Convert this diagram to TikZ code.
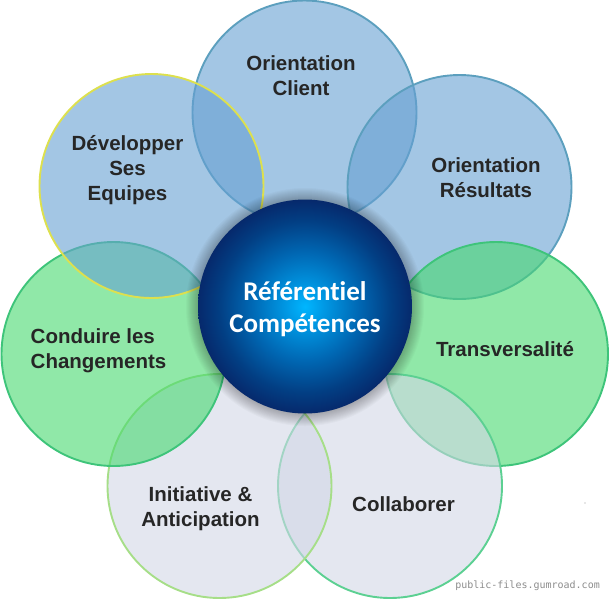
\documentclass[tikz,border=0pt]{standalone}
\usepackage{fontspec}
\setmainfont{Liberation Sans}
\newfontfamily\hubfont[Ligatures=NoCommon]{Carlito}
\newfontfamily\markfont{DejaVu Sans Mono}
\definecolor{bluefill}{HTML}{66A0D2}
\definecolor{greenfill}{HTML}{46D96E}
\definecolor{greyfill}{HTML}{D2D7E6}
\definecolor{labelink}{HTML}{262626}
\definecolor{edgeblue}{HTML}{5C9FBE}
\definecolor{edgeyellow}{HTML}{DDE04E}
\definecolor{edgegreen}{HTML}{3EC47A}
\definecolor{edgelime}{HTML}{A6DE88}
\definecolor{edgemint}{HTML}{5CD092}
\definecolor{hubA}{HTML}{00B6FF}
\definecolor{hubB}{HTML}{0098E4}
\definecolor{hubC}{HTML}{0068B4}
\definecolor{hubD}{HTML}{023F84}
\definecolor{hubE}{HTML}{06296C}
\pgfdeclareradialshading{hubshade}{\pgfpoint{0bp}{0bp}}{%
 color(0bp)=(hubA);
 color(4.5bp)=(hubB);
 color(12.5bp)=(hubC);
 color(20bp)=(hubD);
 color(25bp)=(hubE);
 color(50bp)=(hubE)}
\tikzset{
 petal/.style={circle,minimum size=224pt,inner sep=0pt,line width=1.9pt,fill opacity=0.6},
 bluepetal/.style={petal,fill=bluefill},
 greenpetal/.style={petal,fill=greenfill},
 greypetal/.style={petal,fill=greyfill},
 petallabel/.style={font=\bfseries\fontsize{20.5}{25}\selectfont,text=labelink,align=center,inner sep=0pt},
}
\begin{document}
\begin{tikzpicture}[x=1pt,y=-1pt]
\useasboundingbox (0,0) rectangle (609,600);
\node[bluepetal,draw=edgeblue] (client) at (304.5,112.5) {};
\node[bluepetal,draw=edgeblue] (resultats) at (459.5,187) {};
\node[greenpetal,draw=edgegreen] (transv) at (496,354) {};
\node[greypetal,draw=edgemint] (collaborer) at (390,486) {};
\node[greypetal,draw=edgelime] (initiative) at (219.5,486) {};
\node[greenpetal,draw=edgegreen] (conduire) at (113.5,354) {};
\node[bluepetal,draw=edgeyellow] (equipes) at (151.5,186) {};
% soft shadow of the hub
\foreach \r in {119,118,...,106}{\fill[black,opacity=0.022] (305,307) circle[radius=\r];}
\node[circle,minimum size=214pt,inner sep=0pt,shading=hubshade] (hub) at (305,306.5) {};
\node[font=\hubfont\bfseries\fontsize{27}{32}\selectfont,text=white,align=center,inner sep=0pt] (hubtext) at (305,309.5) {Référentiel\\Compétences};
\node[petallabel] (t1) at (301,76) {Orientation\\Client};
\node[petallabel] (t2) at (486,178) {Orientation\\Résultats};
\node[petallabel] (t3) at (127.5,170.5) {Développer\\Ses\\Equipes};
\node[petallabel,align=left] (t4) at (98.5,350.5) {Conduire les\\Changements};
\node[petallabel] (t5) at (505,349) {Transversalité};
\node[petallabel] (t6) at (200.5,508.5) {Initiative \&\\Anticipation};
\node[petallabel] (t7) at (403.5,504) {Collaborer};
\node[font=\markfont\fontsize{10}{13}\selectfont,text=black!45,inner sep=0pt,anchor=east] (mark) at (600,586) {public-files.gumroad.com};
\fill[black!40] (585,503) circle[radius=0.6];
\end{tikzpicture}
\end{document}
